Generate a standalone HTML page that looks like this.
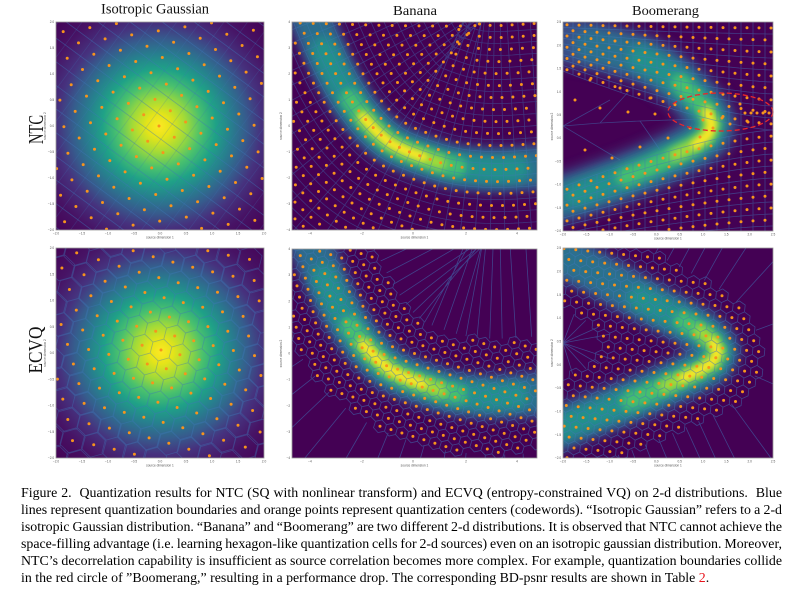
<!DOCTYPE html>
<html><head><meta charset="utf-8">
<style>
html,body{margin:0;padding:0;background:#fff;width:808px;height:592px;overflow:hidden;}
#wrap{position:relative;width:808px;height:592px;overflow:hidden;}
svg{position:absolute;left:0;top:0;}
#cap{position:absolute;left:21px;top:485px;width:770px;height:104px;overflow:hidden;font-family:"Liberation Serif","Times New Roman",serif;font-size:12.7px;line-height:17px;color:#000;}
#cap div{white-space:nowrap;height:17px;}
#cap .r{color:#e8141c;}
</style></head>
<body>
<div id="wrap">
<svg id="fig" width="808" height="592" viewBox="0 0 808 592" xmlns="http://www.w3.org/2000/svg" overflow="hidden">
<defs>
<clipPath id="c1"><rect x="56" y="22" width="208" height="208"/></clipPath>
<clipPath id="c2"><rect x="292" y="22" width="245" height="208"/></clipPath>
<clipPath id="c3"><rect x="563" y="22" width="210" height="209"/></clipPath>
<clipPath id="c4"><rect x="56" y="248" width="208" height="210"/></clipPath>
<clipPath id="c5"><rect x="292" y="249" width="245" height="209"/></clipPath>
<clipPath id="c6"><rect x="563" y="248" width="210" height="210"/></clipPath>
<radialGradient id="g1" gradientUnits="userSpaceOnUse" cx="159" cy="126" r="150">
<stop offset="0" stop-color="#fde725"/><stop offset="0.08" stop-color="#e5e419"/><stop offset="0.18" stop-color="#a0da39"/><stop offset="0.28" stop-color="#4ac16d"/><stop offset="0.38" stop-color="#1fa187"/><stop offset="0.48" stop-color="#277f8e"/><stop offset="0.58" stop-color="#365c8d"/><stop offset="0.68" stop-color="#46327e"/><stop offset="0.82" stop-color="#471365"/><stop offset="1" stop-color="#440154"/>
</radialGradient>
<radialGradient id="g4" gradientUnits="userSpaceOnUse" cx="161" cy="352" r="150">
<stop offset="0" stop-color="#fde725"/><stop offset="0.08" stop-color="#e5e419"/><stop offset="0.18" stop-color="#a0da39"/><stop offset="0.28" stop-color="#4ac16d"/><stop offset="0.38" stop-color="#1fa187"/><stop offset="0.48" stop-color="#277f8e"/><stop offset="0.58" stop-color="#365c8d"/><stop offset="0.68" stop-color="#46327e"/><stop offset="0.82" stop-color="#471365"/><stop offset="1" stop-color="#440154"/>
</radialGradient>
<filter id="f6" filterUnits="userSpaceOnUse" x="0" y="0" width="808" height="592"><feGaussianBlur stdDeviation="6"/></filter>
<filter id="f5" filterUnits="userSpaceOnUse" x="0" y="0" width="808" height="592"><feGaussianBlur stdDeviation="5"/></filter>
<filter id="f4" filterUnits="userSpaceOnUse" x="0" y="0" width="808" height="592"><feGaussianBlur stdDeviation="4"/></filter>
<filter id="f3" filterUnits="userSpaceOnUse" x="0" y="0" width="808" height="592"><feGaussianBlur stdDeviation="3"/></filter>
</defs>
<rect x="56" y="22" width="208" height="208" fill="url(#g1)"/>
<rect x="292" y="22" width="245" height="208" fill="#440154"/>
<rect x="563" y="22" width="210" height="209" fill="#440154"/>
<rect x="56" y="248" width="208" height="210" fill="url(#g4)"/>
<rect x="292" y="249" width="245" height="209" fill="#440154"/>
<rect x="563" y="248" width="210" height="210" fill="#440154"/>
<g id="dyn"></g>
<ellipse cx="720.5" cy="112" rx="52.5" ry="19" fill="none" stroke="#e8262b" stroke-width="1.3" stroke-dasharray="5 3"/>
<g fill="none" stroke="#9a9a9a" stroke-width="0.8">
<rect x="56" y="22" width="208" height="208"/>
<rect x="292" y="22" width="245" height="208"/>
<rect x="563" y="22" width="210" height="209"/>
<rect x="56" y="248" width="208" height="210"/>
<rect x="292" y="249" width="245" height="209"/>
<rect x="563" y="248" width="210" height="210"/>
</g>
<g id="ticks" font-family="Liberation Sans, sans-serif" font-size="3.2" fill="#555"></g>
<g font-family="Liberation Serif, Times New Roman, serif" fill="#111">
<text x="101" y="13.5" font-size="14.5" textLength="108" lengthAdjust="spacingAndGlyphs">Isotropic Gaussian</text>
<text x="393" y="15" font-size="14" textLength="44" lengthAdjust="spacingAndGlyphs">Banana</text>
<text x="632" y="15" font-size="14" textLength="67" lengthAdjust="spacingAndGlyphs">Boomerang</text>
<text transform="translate(43,129.5) rotate(-90)" text-anchor="middle" font-size="21" textLength="29" lengthAdjust="spacingAndGlyphs">NTC</text>
<text transform="translate(42,350) rotate(-90)" text-anchor="middle" font-size="20" textLength="47" lengthAdjust="spacingAndGlyphs">ECVQ</text>
</g>
</svg>
<div id="cap">
<div><span>Figure 2.&nbsp; Quantization results for NTC (SQ with nonlinear transform) and ECVQ (entropy-constrained VQ) on 2-d distributions.&nbsp; Blue</span></div>
<div><span>lines represent quantization boundaries and orange points represent quantization centers (codewords). “Isotropic Gaussian” refers to a 2-d</span></div>
<div><span>isotropic Gaussian distribution. “Banana” and “Boomerang” are two different 2-d distributions. It is observed that NTC cannot achieve the</span></div>
<div><span>space-filling advantage (i.e. learning hexagon-like quantization cells for 2-d sources) even on an isotropic gaussian distribution. Moreover,</span></div>
<div><span>NTC’s decorrelation capability is insufficient as source correlation becomes more complex. For example, quantization boundaries collide</span></div>
<div><span>in the red circle of ”Boomerang,” resulting in a performance drop. The corresponding BD-psnr results are shown in Table <span class="r">2</span>.</span></div>
</div>
</div>
<script>
(function(){
const P1={x:56,y:22,w:208,h:208},P2={x:292,y:22,w:245,h:208},P3={x:563,y:22,w:210,h:209},P4={x:56,y:248,w:208,h:210},P5={x:292,y:249,w:245,h:209},P6={x:563,y:248,w:210,h:210};
const f=v=>v.toFixed(1);
const inR=(p,x,y,m)=>{m=m||0;return x>=p.x-m&&x<=p.x+p.w+m&&y>=p.y-m&&y<=p.y+p.h+m;};
const circ=(x,y)=>'<circle cx="'+f(x)+'" cy="'+f(y)+'" r="1.5"/>';
const seg=(a,b,c,d)=>'M'+f(a)+' '+f(b)+'L'+f(c)+' '+f(d);
const polyD=pts=>'M'+pts.map(p=>f(p[0])+' '+f(p[1])).join('L');
function cseg(p,x1,y1,x2,y2){
  let t0=0,t1=1,dx=x2-x1,dy=y2-y1;
  const PP=[-dx,dx,-dy,dy],QQ=[x1-p.x,p.x+p.w-x1,y1-p.y,p.y+p.h-y1];
  for(let i=0;i<4;i++){
    if(Math.abs(PP[i])<1e-12){if(QQ[i]<0)return '';}
    else{let t=QQ[i]/PP[i];if(PP[i]<0){if(t>t1)return '';if(t>t0)t0=t;}else{if(t<t0)return '';if(t<t1)t1=t;}}
  }
  return seg(x1+t0*dx,y1+t0*dy,x1+t1*dx,y1+t1*dy);
}
function cpoly(p,pts,m){
  m=m||6;let s='',on=false;
  pts.forEach(q=>{if(inR(p,q[0],q[1],m)){s+=(on?'L':'M')+f(q[0])+' '+f(q[1]);on=true;}else on=false;});
  return s;
}
function resamp(pts,step,start){
  let out=[],need=start||0,acc=0;
  for(let i=0;i<pts.length-1;i++){
    let x0=pts[i][0],y0=pts[i][1],dx=pts[i+1][0]-x0,dy=pts[i+1][1]-y0,L=Math.hypot(dx,dy);
    if(L<1e-9)continue;
    while(need<=acc+L){let t=(need-acc)/L;out.push([x0+dx*t,y0+dy*t]);need+=step;}
    acc+=L;
  }
  return out;
}
function curve(pts){
  let r=resamp(pts,2,0),n=r.length,sm=[];
  for(let i=0;i<n;i++){let sx=0,sy=0,c=0;for(let j=Math.max(0,i-8);j<=Math.min(n-1,i+8);j++){sx+=r[j][0];sy+=r[j][1];c++;}sm.push([sx/c,sy/c]);}
  let res=[];
  for(let i=0;i<n;i++){let a=sm[Math.max(0,i-3)],b=sm[Math.min(n-1,i+3)];let dx=b[0]-a[0],dy=b[1]-a[1],L=Math.hypot(dx,dy)||1;res.push([sm[i][0],sm[i][1],dx/L,dy/L]);}
  return res;
}
function dist(pts,x,y){let m=1e9;for(let i=0;i<pts.length-1;i++){let ax=pts[i][0],ay=pts[i][1],dx=pts[i+1][0]-ax,dy=pts[i+1][1]-ay;let t=((x-ax)*dx+(y-ay)*dy)/(dx*dx+dy*dy);t=Math.max(0,Math.min(1,t));let ex=ax+t*dx-x,ey=ay+t*dy-y;m=Math.min(m,ex*ex+ey*ey);}return Math.sqrt(m);}
function hex(x,y,R,th){let s='';for(let k=0;k<6;k++){let a=th+Math.PI/6+k*Math.PI/3;s+=(k?'L':'M')+f(x+R*Math.cos(a))+' '+f(y+R*Math.sin(a));}return s+'Z';}
function glow(pts,layers,clip){
  let s='<g clip-path="url(#'+clip+')" fill="none" stroke-linecap="round" stroke-linejoin="round">';
  layers.forEach(L=>{let sub=pts.slice(L[3],L[4]+1);s+='<path d="'+polyD(sub)+'" stroke="'+L[0]+'" stroke-width="'+L[1]+'" filter="url(#f'+L[2]+')" opacity="'+(L[5]||1)+'"/>';});
  return s+'</g>';
}
function wrap(clip,lines,dots,lop){
  return '<g clip-path="url(#'+clip+')"><path d="'+lines+'" fill="none" stroke="#3f77b8" stroke-width="0.8" opacity="'+(lop||0.55)+'"/><g fill="#f7941d">'+dots+'</g></g>';
}
function hexLattice(p,s,th,keep){
  let a=[s*Math.cos(th),s*Math.sin(th)],b=[s*Math.cos(th+Math.PI/3),s*Math.sin(th+Math.PI/3)];
  let cx=p.x+p.w/2,cy=p.y+p.h/2,N=Math.ceil(p.w/s)+6,d='',l='';
  for(let i=-N;i<=N;i++)for(let j=-N;j<=N;j++){
    let x=cx+i*a[0]+j*b[0],y=cy+i*a[1]+j*b[1];
    if(!inR(p,x,y,6))continue;
    if(!keep(x,y))continue;
    l+=hex(x,y,s/Math.sqrt(3),th);
    if(inR(p,x,y))d+=circ(x,y);
  }
  return [d,l];
}
let out='';

/* Panel 1 */
{let cx=159,cy=126,u=[15.3,11.3],v=[-11.3,15.3],d='',l1='',l2='';
 for(let i=-11;i<=11;i++)for(let j=-11;j<=11;j++){let x=cx+i*u[0]+j*v[0],y=cy+i*u[1]+j*v[1];if(inR(P1,x,y))d+=circ(x,y);}
 for(let k=-11;k<=11;k++){let a=k+0.5;
  let x0=cx+a*v[0],y0=cy+a*v[1];l1+=cseg(P1,x0-12*u[0],y0-12*u[1],x0+12*u[0],y0+12*u[1]);
  let x1=cx+a*u[0],y1=cy+a*u[1];l2+=cseg(P1,x1-12*v[0],y1-12*v[1],x1+12*v[0],y1+12*v[1]);}
 out+='<g clip-path="url(#c1)"><path d="'+l2+'" fill="none" stroke="#3f77b8" stroke-width="0.7" opacity="0.25"/></g>';
 out+=wrap('c1',l1,d,0.45);
}
/* Panel 4 */
{let cx=161,cy=350,s=19.5,th=0.25,k=0.000006,d='',l='';
 let a=[s*Math.cos(th),s*Math.sin(th)],b=[s*Math.cos(th+Math.PI/3),s*Math.sin(th+Math.PI/3)];
 for(let i=-12;i<=12;i++)for(let j=-12;j<=12;j++){
  let px=i*a[0]+j*b[0],py=i*a[1]+j*b[1],r=Math.hypot(px,py),fc=1+k*r*r;
  let x=cx+px*fc,y=cy+py*fc;
  if(!inR(P4,x,y,6))continue;
  l+=hex(x,y,s/Math.sqrt(3)*(1+2*k*r*r),th);
  if(inR(P4,x,y))d+=circ(x,y);
 }
 out+=wrap('c4',l,d,0.42);
}
/* Banana glows */
const B=[[300,-10],[306,5],[313,23],[324,50],[337,77],[350,99],[363,117],[376,131],[390,143],[406,151],[423,157],[440,163],[457,167],[477,169],[497,170],[517,169],[545,167]];
const BL=[["#3b528b",46,6,0,16,0.95],["#2c718e",34,5,1,16,0.9],["#21918c",26,5,3,15],["#44bf70",19,4,5,12],["#a5db36",13,4,6,11],["#fde725",8,3,6,10]];
out+=glow(B,BL,'c2');
const B5=B.map(p=>[p[0],p[1]+227]);
out+=glow(B5,BL,'c5');
/* Boomerang glows */
const BM3=[[545,36],[563,40],[590,45],[615,51],[640,58],[662,70],[680,83],[695,98],[707,112],[712,124],[708,135],[695,145],[675,155],[650,167],[625,177],[600,186],[575,195],[545,203]];
out+=glow(BM3,[["#3b528b",50,6,0,17,0.95],["#2c718e",34,5,2,17],["#21918c",25,5,4,16],["#44bf70",18,4,6,14],["#a5db36",12,4,8,12],["#fde725",8,3,8,11]],'c3');
const BM6=[[545,250],[563,257],[590,270],[615,284],[640,298],[662,310],[683,321],[700,331],[713,342],[718,352],[713,362],[700,370],[683,378],[665,386],[650,393],[630,401],[607,410],[585,418],[563,427],[545,434]];
out+=glow(BM6,[["#3b528b",46,6,0,19,0.95],["#2c718e",34,5,1,19],["#21918c",25,5,4,18],["#44bf70",18,4,6,15],["#a5db36",12,4,7,13],["#fde725",8,3,8,12]],'c6');

/* Panel 2 */
{const Bx=[[285,-45]].concat(B,[[590,165]]);const C=curve(Bx);let d='',l='';
 for(let o=-204;o<=156;o+=12){
  let row=C.map(c=>[c[0]+o*c[3],c[1]-o*c[2]]);
  let lr=C.filter((c,i)=>i%2==0).map(c=>[c[0]+(o+6)*c[3],c[1]-(o+6)*c[2]]);
  l+=cpoly(P2,lr);
  let sh=(Math.round(o/12)%2)?5.5:0;
  resamp(row,11,sh).forEach(p=>{if(inR(P2,p[0],p[1]))d+=circ(p[0],p[1]);});
 }
 for(let i=0;i<C.length;i+=6){let c=C[i];l+=cseg(P2,c[0]-210*c[3],c[1]+210*c[2],c[0]+160*c[3],c[1]-160*c[2]);}
 out+=wrap('c2',l,d,0.42);
}
/* Panel 5 */
{const Bx=[[285,-45+227]].concat(B5,[[590,392]]);const C=curve(Bx);
 let r=hexLattice(P5,11.5,0.3,(x,y)=>dist(B5,x,y)<56);let l=r[1];
 for(let i=0;i<C.length;i+=8){let c=C[i],nx=c[3],ny=-c[2];
  l+=cseg(P5,c[0]+58*nx,c[1]+58*ny,c[0]+200*nx,c[1]+200*ny);
  l+=cseg(P5,c[0]-58*nx,c[1]-58*ny,c[0]-320*nx,c[1]-320*ny);}
 out+=wrap('c5',l,r[0],0.55);
}
/* Panel 3 */
{let d='',l='';const t3=x=>Math.pow(Math.max(0,(773-x)/211),1.4);
 const upY=(y0,x)=>y0-(y0-22)*0.55*t3(x);
 const loY=(y0,x)=>y0+(55-(y0-136)*0.35)*t3(x);
 for(let k=0;k<=8;k++){let y0=28+12*k;
  for(let x=567+(k%2)*6;x<773;x+=12){let y=upY(y0,x);if(inR(P3,x,y))d+=circ(x,y);}
  let lr=[];for(let x=559;x<=777;x+=4)lr.push([x,upY(y0+6,x)]);l+=cpoly(P3,lr);}
 for(let k=0;k<=9;k++){let y0=136+12*k;
  for(let x=567+(k%2)*6;x<773;x+=12){let y=loY(y0,x);if(inR(P3,x,y))d+=circ(x,y);}
  let lr=[];for(let x=559;x<=777;x+=4)lr.push([x,loY(y0-6,x)]);l+=cpoly(P3,lr);}
 for(let x=573;x<773;x+=12){l+=cseg(P3,x,22,x,upY(130,x));l+=cseg(P3,x,loY(130,x),x,231);}
 l+='M563 126L600 123L640 121L700 119';
 l+='M563 126L610 100M563 126L620 160M600 123L630 90M640 121L660 150';
 [[575,100],[600,108],[628,112],[655,114],[590,80],[620,88],[650,98],[585,150],[612,158],[640,147],[668,138],[703,120],[713,128],[700,137],[690,128],[722,118],[730,124],[745,113],[751,113],[757,113],[763,113],[769,113],[740,104],[748,122]].forEach(p=>{d+=circ(p[0],p[1]);});
 out+=wrap('c3',l,d,0.5);
}
/* Panel 6 */
{const up=BM6.slice(0,10),lo=BM6.slice(9).reverse();
 function interp(arr,x){for(let i=0;i<arr.length-1;i++){if(x>=arr[i][0]&&x<=arr[i+1][0]){let t=(x-arr[i][0])/(arr[i+1][0]-arr[i][0]);return arr[i][1]+t*(arr[i+1][1]-arr[i][1]);}}return null;}
 const keep=(x,y)=>{if(dist(BM6,x,y)<46)return true;if(x>600&&x<712){let yu=interp(up,x),yl=interp(lo,x);if(yu!==null&&yl!==null&&y>yu&&y<yl)return true;}return false;};
 let r=hexLattice(P6,12,0.1,keep);let l=r[1];
 const C=curve([[520,238]].concat(BM6,[[520,444]]));
 for(let i=0;i<C.length;i+=7){let c=C[i],nx=c[3],ny=-c[2];
  l+=cseg(P6,c[0]+46*nx,c[1]+46*ny,c[0]+260*nx,c[1]+260*ny);
  let ix=c[0]-46*nx,iy=c[1]-46*ny;
  if(ix<612&&ix>540)l+=cseg(P6,563,343,ix,iy);}
 out+=wrap('c6',l,r[0],0.55);
}
document.getElementById('dyn').innerHTML=out;

/* ticks */
function ticks(p,xl,yl){
  let s='';
  xl.forEach(t=>{s+='<text x="'+f(t[1])+'" y="'+f(p.y+p.h+4.4)+'" text-anchor="middle">'+t[0]+'</text>';});
  yl.forEach(t=>{s+='<text x="'+f(p.x-1.8)+'" y="'+f(t[1]+1.1)+'" text-anchor="end">'+t[0]+'</text>';});
  s+='<text x="'+f(p.x+p.w/2)+'" y="'+f(p.y+p.h+8.6)+'" text-anchor="middle">source dimension 1</text>';
  s+='<text transform="translate('+f(p.x-10)+','+f(p.y+p.h/2)+') rotate(-90)" text-anchor="middle">source dimension 2</text>';
  return s;
}
function even(p,labs,axis){return labs.map((t,i)=>[t,axis=='x'?p.x+p.w*i/(labs.length-1):p.y+p.h*i/(labs.length-1)]);}
const g9=['\u22122.0','\u22121.5','\u22121.0','\u22120.5','0.0','0.5','1.0','1.5','2.0'];
const g9r=g9.slice().reverse();
const b9=['4','3','2','1','0','\u22121','\u22122','\u22123','\u22124'];
const bx=[['\u22124',310],['\u22122',362],['0',413],['2',466],['4',517]];
const m10=['\u22122.0','\u22121.5','\u22121.0','\u22120.5','0.0','0.5','1.0','1.5','2.0','2.5'];
const m10r=m10.slice().reverse();
let ts='';
ts+=ticks(P1,even(P1,g9,'x'),even(P1,g9r,'y'));
ts+=ticks(P4,even(P4,g9,'x'),even(P4,g9r,'y'));
ts+=ticks(P2,bx,even(P2,b9,'y'));
ts+=ticks(P5,bx,even(P5,b9,'y'));
ts+=ticks(P3,even(P3,m10,'x'),even(P3,m10r,'y'));
ts+=ticks(P6,even(P6,m10,'x'),even(P6,m10r,'y'));
document.getElementById('ticks').innerHTML=ts;

/* caption fitting */
const cap=document.getElementById('cap');
const sp=[].slice.call(cap.querySelectorAll('div > span'));
cap.style.fontSize='13px';
let w6=sp[5].getBoundingClientRect().width;
let fs=13*689/w6; if(!(fs>11&&fs<15))fs=12.7;
cap.style.fontSize=fs+'px';
for(let i=0;i<5;i++){let w=sp[i].getBoundingClientRect().width;let n=(sp[i].textContent.match(/[ \u00a0]/g)||[]).length;if(n>0){let ws=(761-w)/n;if(ws>-3&&ws<6)sp[i].style.wordSpacing=ws+'px';}}
})();
</script>
</body></html>
